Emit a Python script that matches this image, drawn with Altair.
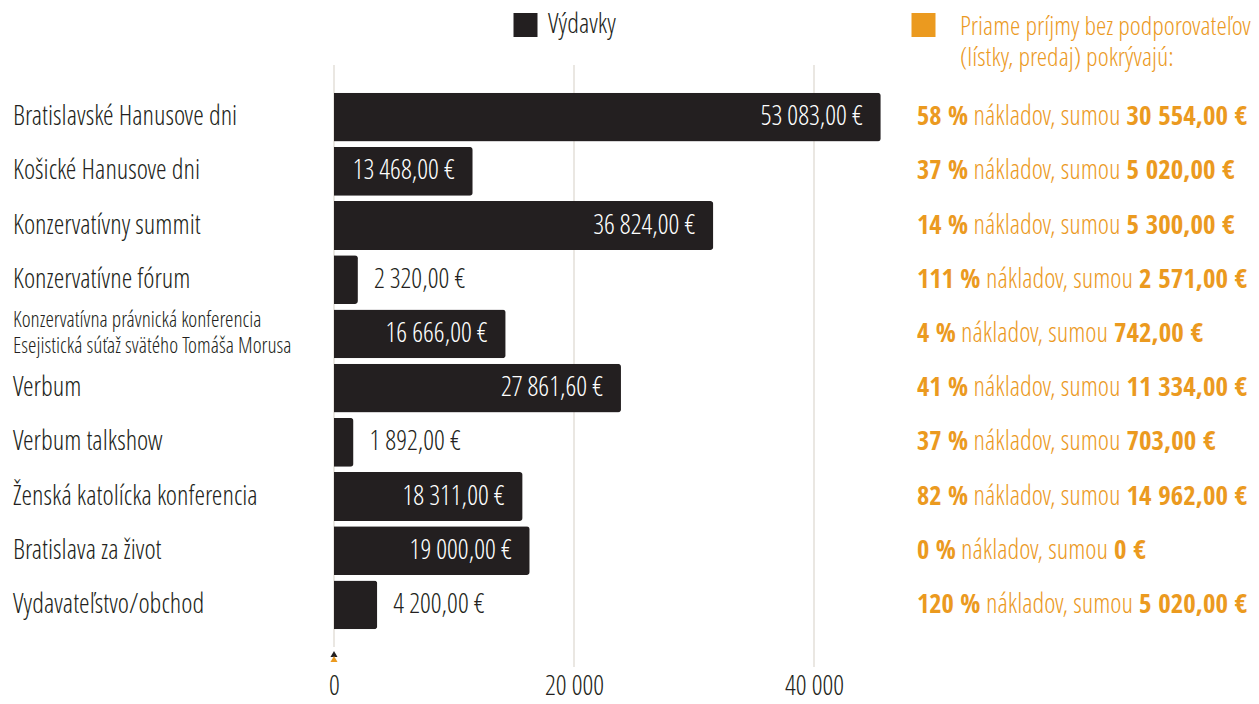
import altair as alt
import pandas as pd

# ---------------- data ----------------
categories = [
    "Bratislavské Hanusove dni",
    "Košické Hanusove dni",
    "Konzervatívny summit",
    "Konzervatívne fórum",
    "Konzervatívna právnická konferencia\nEsejistická súťaž svätého Tomáša Morusa",
    "Verbum",
    "Verbum talkshow",
    "Ženská katolícka konferencia",
    "Bratislava za život",
    "Vydavateľstvo/obchod",
]
expenses = [53083.00, 13468.00, 36824.00, 2320.00, 16666.00, 27861.60, 1892.00, 18311.00, 19000.00, 4200.00]
coverage_pct = [58, 37, 14, 111, 4, 41, 37, 82, 0, 120]
income = [30554.00, 5020.00, 5300.00, 2571.00, 742.00, 11334.00, 703.00, 14962.00, 0, 5020.00]
tick_values = [0, 20000, 40000]
legend_labels = ["Výdavky", "Priame príjmy bez podporovateľov\n(lístky, predaj) pokrývajú:"]
middle_text = "nákladov, sumou"


def eur(v):
    if v == 0:
        return "0 €"
    return f"{v:,.2f}".replace(",", " ").replace(".", ",") + " €"


df = pd.DataFrame({"cat": categories, "exp": expenses, "pct": coverage_pct, "inc": income})
df["exp_label"] = [eur(v) for v in expenses]
df["pct_label"] = [f"{p} %" for p in coverage_pct]
df["inc_label"] = [eur(v) for v in income]
df["mid_label"] = middle_text
ticks_df = pd.DataFrame({"tick": tick_values})
leg1_df = pd.DataFrame({"label": [legend_labels[0]]})
leg2_df = pd.DataFrame({"label": [legend_labels[1]]})
zero_df = pd.DataFrame({"v": [0]})

# ---------------- style ----------------
LIGHT = "Open Sans Condensed Light, Open Sans Condensed, Roboto Condensed, sans-serif"
BOLD = "Open Sans Condensed, Roboto Condensed, sans-serif"
DARK = "#231f20"
ORANGE = "#eb9a1f"
GRID = "#e3dfd8"
FS = 27

W, H = 560, 542
BAR_MAX = W / 0.0103
AXIS_MAX = W / 0.0120
RX = 583
DIG_W = 12.5
PCT_W = 25.5
GAP = 6
MID_W = 147

y_enc = alt.Y("cat:N", sort=categories, axis=None,
              scale=alt.Scale(paddingInner=0.1, paddingOuter=0.05))
xbar = alt.Scale(domain=[0, BAR_MAX], nice=False, zero=True)

base = alt.Chart(df)

grid = alt.Chart(ticks_df).transform_calculate(
    y1="-25", y2v="datum.tick == 0 ? 557 : 577"
).mark_rule(color=GRID, strokeWidth=1.5).encode(
    x=alt.X("tick:Q", scale=alt.Scale(domain=[0, AXIS_MAX], nice=False),
            axis=alt.Axis(values=tick_values, labelExpr="replace(format(datum.value, ','), ',', ' ')",
                          domain=False, ticks=False, grid=False, labelPadding=41, labelFlush=False,
                          labelFontSize=FS, labelFont=LIGHT, labelFontWeight=300,
                          labelColor=DARK, title=None)),
    y=alt.Y("y1:Q", scale=None),
    y2="y2v:Q",
)

bars = base.mark_bar(color=DARK, cornerRadiusEnd=3).encode(
    x=alt.X("exp:Q", scale=xbar, axis=None), y=y_enc)

inside = base.transform_filter("datum.exp > 10000").mark_text(
    align="right", baseline="middle", dx=-18, color="white", font=LIGHT, fontWeight=300, fontSize=FS
).encode(x=alt.X("exp:Q", scale=xbar, axis=None), y=y_enc, text="exp_label:N")

outside = base.transform_filter("datum.exp <= 10000").mark_text(
    align="left", baseline="middle", dx=16, color=DARK, font=LIGHT, fontWeight=300, fontSize=FS
).encode(x=alt.X("exp:Q", scale=xbar, axis=None), y=y_enc, text="exp_label:N")

left1 = base.transform_filter("indexof(datum.cat, '\\n') < 0").mark_text(
    align="left", baseline="middle", font=LIGHT, fontWeight=300, fontSize=FS, color=DARK
).encode(x=alt.value(-321), y=y_enc, text="cat:N")

left2 = base.transform_filter("indexof(datum.cat, '\\n') >= 0").mark_text(
    align="left", baseline="middle", font=LIGHT, fontWeight=300, fontSize=21.5, color=DARK,
    lineBreak="\n", lineHeight=26, dy=-13
).encode(x=alt.value(-321), y=y_enc, text="cat:N")

pct_txt = base.mark_text(
    align="left", baseline="middle", font=BOLD, fontSize=26.5, fontWeight="bold", color=ORANGE
).encode(x=alt.value(RX), y=y_enc, text="pct_label:N")

mid_txt = base.transform_calculate(
    mx=f"{RX} + length(toString(datum.pct)) * {DIG_W} + {PCT_W} + {GAP}"
).mark_text(
    align="left", baseline="middle", font=LIGHT, fontWeight=300, fontSize=FS, color=ORANGE
).encode(x=alt.X("mx:Q", scale=None), y=y_enc, text="mid_label:N")

sum_txt = base.transform_calculate(
    sx=f"{RX} + length(toString(datum.pct)) * {DIG_W} + {PCT_W} + {GAP} + {MID_W} + {GAP}"
).mark_text(
    align="left", baseline="middle", font=BOLD, fontSize=FS, fontWeight="bold", color=ORANGE
).encode(x=alt.X("sx:Q", scale=None), y=y_enc, text="inc_label:N")

leg1_sq = alt.Chart(leg1_df).mark_square(size=576, color=DARK, opacity=1).encode(
    x=alt.value(191.5), y=alt.value(-65))
leg1_tx = alt.Chart(leg1_df).mark_text(
    align="left", baseline="middle", font=LIGHT, fontWeight=300, fontSize=FS, color=DARK
).encode(x=alt.value(214), y=alt.value(-65), text="label:N")
leg2_sq = alt.Chart(leg2_df).mark_square(size=576, color=ORANGE, opacity=1).encode(
    x=alt.value(589.5), y=alt.value(-65))
leg2_tx = alt.Chart(leg2_df).mark_text(
    align="left", baseline="middle", font=LIGHT, fontWeight=300, fontSize=26.5, color=ORANGE,
    lineBreak="\n", lineHeight=31
).encode(x=alt.value(626), y=alt.value(-63), text="label:N")

tri_dark = alt.Chart(zero_df).mark_point(shape="triangle-up", filled=True, size=50, color=DARK, opacity=1).encode(
    x=alt.X("v:Q", scale=xbar, axis=None), y=alt.value(564))
tri_orange = alt.Chart(zero_df).mark_point(shape="triangle-up", filled=True, size=50, color=ORANGE, opacity=1).encode(
    x=alt.X("v:Q", scale=xbar, axis=None), y=alt.value(569))

chart = alt.layer(
    grid, bars, inside, outside, left1, left2, pct_txt, mid_txt, sum_txt,
    leg1_sq, leg1_tx, leg2_sq, leg2_tx, tri_dark, tri_orange
).resolve_scale(x="independent").properties(
    width=W, height=H,
    padding={"left": 326, "top": 82, "right": 357, "bottom": 64},
    autosize=alt.AutoSizeParams(type="none"),
    background="white",
).configure_view(stroke=None)

chart.save("out.html", embed_options={"renderer": "svg", "actions": False})
